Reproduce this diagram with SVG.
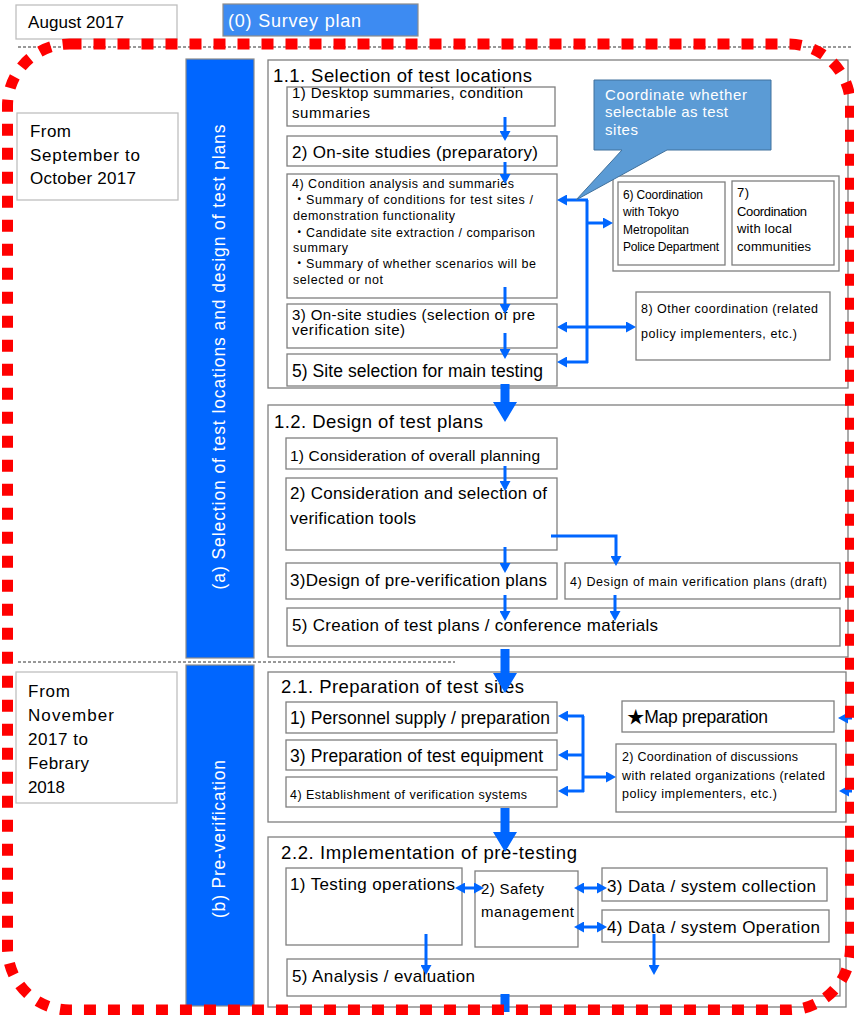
<svg xmlns="http://www.w3.org/2000/svg" width="854" height="1015" viewBox="0 0 854 1015">
<defs>
<style>
.t{font-family:"Liberation Sans",Arial,"Noto Sans CJK JP","DejaVu Sans",sans-serif;fill:#000}
.w{fill:#fff}
.bx{fill:#fff;stroke:#7f7f7f;stroke-width:1.3}
.tb{fill:#fff;stroke:#bfbfbf;stroke-width:1.3}
.bar{fill:#0066ff;stroke:#8c8c8c;stroke-width:1.2}
.cn{stroke:#0066ff;stroke-width:3;fill:none}
.a1{marker-end:url(#ah)}
.a2{marker-start:url(#ah);marker-end:url(#ah)}
.big{fill:#0066ff}
.dash{stroke:#333;stroke-width:1;stroke-dasharray:3 2;fill:none}
</style>
<marker id="ah" markerUnits="userSpaceOnUse" markerWidth="10" markerHeight="11" refX="0" refY="5.5" orient="auto-start-reverse">
<path d="M0,0 L10,5.5 L0,11 z" fill="#0066ff"/>
</marker>
</defs>
<rect width="854" height="1015" fill="#fff"/>

<!-- header -->
<g id="period-aug">
<rect class="tb" x="16" y="5" width="161" height="34"/>
<text class="t" x="28" y="28" font-size="17" textLength="96">August 2017</text>
</g>
<g id="survey-plan">
<rect x="223" y="4" width="195" height="32" fill="#3d8bf2" stroke="#8c8c8c" stroke-width="1.2"/>
<text class="t w" x="228" y="27" font-size="18" textLength="133">(0) Survey plan</text>
</g>
<path class="dash" d="M18,47 H852"/>
<path class="dash" d="M18,662 H455"/>

<!-- period labels -->
<g id="period-a">
<rect class="tb" x="17" y="113" width="161" height="87"/>
<text class="t" x="30" y="137" font-size="17" textLength="41">From</text>
<text class="t" x="30" y="161" font-size="17" textLength="110">September to</text>
<text class="t" x="30" y="184" font-size="17" textLength="106">October 2017</text>
</g>
<g id="period-b">
<rect class="tb" x="16" y="672" width="161" height="131"/>
<text class="t" x="28" y="697" font-size="17" textLength="42">From</text>
<text class="t" x="28" y="721" font-size="17" textLength="86">November</text>
<text class="t" x="28" y="745" font-size="17" textLength="60">2017 to</text>
<text class="t" x="28" y="769" font-size="17" textLength="61">Febrary</text>
<text class="t" x="28" y="793" font-size="17" textLength="37">2018</text>
</g>

<!-- phase bars -->
<g id="phase-a">
<rect class="bar" x="186" y="59" width="68" height="599"/>
<text class="t w" transform="translate(225,357) rotate(-90)" text-anchor="middle" font-size="17.5" textLength="465">(a) Selection of test locations and design of test plans</text>
</g>
<g id="phase-b">
<rect class="bar" x="186" y="665" width="68" height="341"/>
<text class="t w" transform="translate(225,839) rotate(-90)" text-anchor="middle" font-size="17.5" textLength="158">(b) Pre-verification</text>
</g>

<!-- 1.1 Selection of test locations -->
<g id="sec-1-1">
<rect class="bx" x="268" y="60" width="580" height="328"/>
<text class="t" x="273" y="82" font-size="18.5" textLength="259">1.1. Selection of test locations</text>
</g>
<g id="n11-1">
<rect class="bx" x="287" y="87" width="268" height="39"/>
<text class="t" x="292" y="98" font-size="15" textLength="231">1) Desktop summaries, condition</text>
<text class="t" x="292" y="118" font-size="15" textLength="78">summaries</text>
</g>
<g id="n11-2">
<rect class="bx" x="287" y="136" width="270" height="30"/>
<text class="t" x="292" y="158" font-size="17" textLength="246">2) On-site studies (preparatory)</text>
</g>
<g id="n11-4">
<rect class="bx" x="287" y="174" width="270" height="124"/>
<text class="t" x="292" y="188" font-size="12.5" textLength="222">4) Condition analysis and summaries</text>
<text class="t" x="293" y="204" font-size="12.5" textLength="240">・Summary of conditions for test sites /</text>
<text class="t" x="293" y="220" font-size="12.5" textLength="162">demonstration functionality</text>
<text class="t" x="293" y="237" font-size="12.5" textLength="242">・Candidate site extraction / comparison</text>
<text class="t" x="293" y="252" font-size="12.5" textLength="55">summary</text>
<text class="t" x="293" y="268" font-size="12.5" textLength="243">・Summary of whether scenarios will be</text>
<text class="t" x="293" y="284" font-size="12.5" textLength="90">selected or not</text>
</g>
<g id="n11-3">
<rect class="bx" x="287" y="304" width="270" height="44"/>
<text class="t" x="292" y="320" font-size="15" textLength="243">3) On-site studies (selection of pre</text>
<text class="t" x="292" y="335" font-size="15" textLength="113">verification site)</text>
</g>
<g id="n11-5">
<rect class="bx" x="287" y="354" width="270" height="32"/>
<text class="t" x="292" y="377" font-size="17.5" textLength="251">5) Site selection for main testing</text>
</g>
<g id="n11-67">
<rect class="bx" x="613" y="176" width="226" height="95"/>
</g>
<g id="n11-6">
<rect class="bx" x="618" y="182" width="107" height="83"/>
<text class="t" x="623" y="199" font-size="12" textLength="80">6) Coordination</text>
<text class="t" x="623" y="216" font-size="12" textLength="56">with Tokyo</text>
<text class="t" x="623" y="234" font-size="12" textLength="66">Metropolitan</text>
<text class="t" x="623" y="251" font-size="12" textLength="96">Police Department</text>
</g>
<g id="n11-7">
<rect class="bx" x="732" y="181" width="102" height="84"/>
<text class="t" x="737" y="197" font-size="13" textLength="12">7)</text>
<text class="t" x="737" y="216" font-size="13" textLength="70">Coordination</text>
<text class="t" x="737" y="233" font-size="13" textLength="55">with local</text>
<text class="t" x="737" y="251" font-size="13" textLength="74">communities</text>
</g>
<g id="n11-8">
<rect class="bx" x="636" y="292" width="194" height="68"/>
<text class="t" x="641" y="313" font-size="12.5" textLength="177">8) Other coordination (related</text>
<text class="t" x="641" y="338" font-size="12.5" textLength="156">policy implementers, etc.)</text>
</g>

<!-- 1.2 Design of test plans -->
<g id="sec-1-2">
<rect class="bx" x="268" y="405" width="580" height="252"/>
<text class="t" x="274" y="428" font-size="18.5" textLength="209">1.2. Design of test plans</text>
</g>
<g id="n12-1">
<rect class="bx" x="286" y="438" width="271" height="31"/>
<text class="t" x="290" y="461" font-size="15.5" textLength="250">1) Consideration of overall planning</text>
</g>
<g id="n12-2">
<rect class="bx" x="286" y="478" width="271" height="72"/>
<text class="t" x="290" y="499" font-size="17" textLength="257">2) Consideration and selection of</text>
<text class="t" x="290" y="524" font-size="17" textLength="126">verification tools</text>
</g>
<g id="n12-3">
<rect class="bx" x="286" y="563" width="271" height="36"/>
<text class="t" x="290" y="586" font-size="17" textLength="257">3)Design of pre-verification plans</text>
</g>
<g id="n12-4">
<rect class="bx" x="565" y="563" width="275" height="36"/>
<text class="t" x="570" y="586" font-size="12.5" textLength="257">4) Design of main verification plans (draft)</text>
</g>
<g id="n12-5">
<rect class="bx" x="287" y="608" width="553" height="38"/>
<text class="t" x="292" y="631" font-size="17" textLength="366">5) Creation of test plans / conference materials</text>
</g>

<!-- 2.1 Preparation of test sites -->
<g id="sec-2-1">
<rect class="bx" x="268" y="672" width="578" height="150"/>
<text class="t" x="281" y="693" font-size="18.5" textLength="243">2.1. Preparation of test sites</text>
</g>
<g id="n21-1">
<rect class="bx" x="286" y="702" width="271" height="31"/>
<text class="t" x="290" y="724" font-size="17.5" textLength="260">1) Personnel supply / preparation</text>
</g>
<g id="n21-3">
<rect class="bx" x="286" y="740" width="271" height="30"/>
<text class="t" x="290" y="762" font-size="17.5" textLength="253">3) Preparation of test equipment</text>
</g>
<g id="n21-4">
<rect class="bx" x="286" y="777" width="271" height="30"/>
<text class="t" x="290" y="799" font-size="12.5" textLength="237">4) Establishment of verification systems</text>
</g>
<g id="n21-map">
<rect class="bx" x="622" y="701" width="212" height="31"/>
<text class="t" x="627" y="723" font-size="17.5" textLength="141">★Map preparation</text>
</g>
<g id="n21-2">
<rect class="bx" x="616" y="744" width="220" height="68"/>
<text class="t" x="622" y="761" font-size="12.5" textLength="176">2) Coordination of discussions</text>
<text class="t" x="622" y="780" font-size="12.5" textLength="203">with related organizations (related</text>
<text class="t" x="622" y="798" font-size="12.5" textLength="155">policy implementers, etc.)</text>
</g>

<!-- 2.2 Implementation of pre-testing -->
<g id="sec-2-2">
<rect class="bx" x="268" y="837" width="578" height="170"/>
<text class="t" x="281" y="859" font-size="18.5" textLength="296">2.2. Implementation of pre-testing</text>
</g>
<g id="n22-1">
<rect class="bx" x="286" y="868" width="176" height="77"/>
<text class="t" x="290" y="890" font-size="17" textLength="165">1) Testing operations</text>
</g>
<g id="n22-2">
<rect class="bx" x="475" y="871" width="103" height="76"/>
<text class="t" x="481" y="894" font-size="15" textLength="63">2) Safety</text>
<text class="t" x="481" y="917" font-size="15" textLength="93">management</text>
</g>
<g id="n22-3">
<rect class="bx" x="602" y="868" width="225" height="33"/>
<text class="t" x="607" y="892" font-size="17" textLength="209">3) Data / system collection</text>
</g>
<g id="n22-4">
<rect class="bx" x="602" y="910" width="227" height="32"/>
<text class="t" x="607" y="933" font-size="17" textLength="213">4) Data / system Operation</text>
</g>
<g id="n22-5">
<rect class="bx" x="287" y="959" width="553" height="37"/>
<text class="t" x="292" y="982" font-size="17" textLength="183">5) Analysis / evaluation</text>
</g>

<!-- connectors -->
<g id="connectors">
<!-- 1.1 flow -->
<path class="cn a1" d="M505,117 V131"/>
<path class="cn a1" d="M505,162 V174"/>
<path class="cn a1" d="M505,287 V304"/>
<path class="cn a1" d="M505,333 V349"/>
<path class="cn" d="M587,200 V363"/>
<path class="cn a1" d="M588,200 H567"/>
<path class="cn a1" d="M588,362 H567"/>
<path class="cn a2" d="M567,327 H626"/>
<path class="cn a1" d="M588,223 H603"/>
<!-- 1.2 flow -->
<path class="cn a1" d="M505,466 V481"/>
<path class="cn a1" d="M505,547 V563"/>
<path class="cn a1" d="M551,536 H616 V556"/>
<path class="cn a1" d="M505,595 V611"/>
<path class="cn a1" d="M615,595 V611"/>
<!-- 2.1 flow -->
<path class="cn" d="M583,716 V792"/>
<path class="cn a1" d="M584,716 H568"/>
<path class="cn a1" d="M584,755 H568"/>
<path class="cn a1" d="M584,791 H568"/>
<path class="cn a1" d="M583,777 H606"/>
<path class="cn a1" d="M852,718 H848"/>
<path class="cn a1" d="M852,791 H849"/>
<!-- 2.2 flow -->
<path class="cn a2" d="M465,888 H474"/>
<path class="cn a2" d="M584,888 H597"/>
<path class="cn a2" d="M584,927 H597"/>
<path class="cn a1" d="M426,934 V965"/>
<path class="cn a1" d="M654,934 V965"/>
<!-- section transitions -->
<path class="big" d="M500.5,384 H509.5 V402 H517 L505,422 L493,402 H500.5 Z"/>
<path class="big" d="M500.5,649 H509.5 V673 H517 L505,693 L493,673 H500.5 Z"/>
<path class="big" d="M500.5,808 H509.5 V832 H517 L505,852 L493,832 H500.5 Z"/>
<rect class="big" x="500.5" y="994" width="9" height="18"/>
</g>

<!-- callout -->
<g id="callout">
<path d="M594,80 H771 V150 H667 L576,200 L622,150 H594 Z" fill="#5b9bd5" stroke="#41719c" stroke-width="1"/>
<text class="t w" x="605" y="100" font-size="15" textLength="142">Coordinate whether</text>
<text class="t w" x="605" y="117" font-size="15" textLength="123">selectable as test</text>
<text class="t w" x="605" y="135" font-size="15" textLength="33">sites</text>
</g>

<!-- scope boundary -->
<rect x="7.5" y="44" width="843" height="966" rx="62" ry="62" fill="none" stroke="#ff0000" stroke-width="11" stroke-dasharray="12 12"/>
</svg>
